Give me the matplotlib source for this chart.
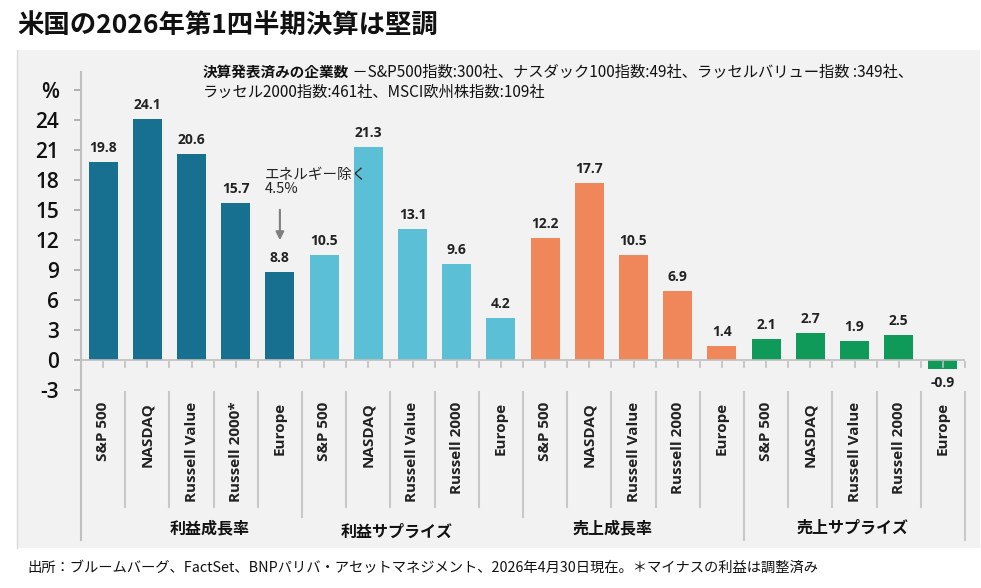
import matplotlib
matplotlib.use("Agg")
import matplotlib.pyplot as plt
import matplotlib.transforms as mtrans
from matplotlib.patches import Rectangle
import numpy as np

# ---------------- data ----------------
groups = ["利益成長率", "利益サプライズ", "売上成長率", "売上サプライズ"]
cat_group1 = ["S&P 500", "NASDAQ", "Russell Value", "Russell 2000*", "Europe"]
cat_group2 = ["S&P 500", "NASDAQ", "Russell Value", "Russell 2000", "Europe"]
cat_group3 = ["S&P 500", "NASDAQ", "Russell Value", "Russell 2000", "Europe"]
cat_group4 = ["S&P 500", "NASDAQ", "Russell Value", "Russell 2000", "Europe"]
earnings_growth = [19.8, 24.1, 20.6, 15.7, 8.8]
earnings_surprise = [10.5, 21.3, 13.1, 9.6, 4.2]
sales_growth = [12.2, 17.7, 10.5, 6.9, 1.4]
sales_surprise = [2.1, 2.7, 1.9, 2.5, -0.9]
yticks = [-3, 0, 3, 6, 9, 12, 15, 18, 21, 24, 27]
ytick_labels = ["-3", "0", "3", "6", "9", "12", "15", "18", "21", "24", "%"]

title = "米国の2026年第1四半期決算は堅調"
note_bold = "決算発表済みの企業数"
note_line1 = " －S&P500指数:300社、ナスダック100指数:49社、ラッセルバリュー指数 :349社、"
note_line2 = "ラッセル2000指数:461社、MSCI欧州株指数:109社"
annot = "エネルギー除く\n4.5%"
footer = "出所：ブルームバーグ、FactSet、BNPパリバ・アセットマネジメント、2026年4月30日現在。＊マイナスの利益は調整済み"

colors = ["#17708f", "#5bbfd6", "#f0875a", "#0f9a5a"]

series = [earnings_growth, earnings_surprise, sales_growth, sales_surprise]
cats = [cat_group1, cat_group2, cat_group3, cat_group4]

# ---------------- figure ----------------
W, H = 981, 588
fig = plt.figure(figsize=(W / 100, H / 100), dpi=100, facecolor="white")

def fx(x):
    return x / W

def fy(y):
    return 1 - y / H

JP = ["Noto Sans CJK JP", "DejaVu Sans"]
LAT = ["Open Sans", "Noto Sans CJK JP", "DejaVu Sans"]

# gray panel
fig.patches.append(Rectangle((fx(17), fy(548)), fx(980) - fx(17), fy(50) - fy(548),
                             transform=fig.transFigure, facecolor="#f2f2f2",
                             edgecolor="none", zorder=-5))
fig.lines.append(plt.Line2D([fx(17), fx(17)], [fy(50), fy(548)], transform=fig.transFigure,
                            color="#d9d9d9", lw=1, zorder=-4))

ax = fig.add_axes([fx(81), fy(390), fx(965) - fx(81), fy(72) - fy(390)])
ax.set_facecolor("none")
ax.set_zorder(1)

xs = np.arange(20)
vals = [v for s in series for v in s]
cols = [colors[g] for g in range(4) for _ in range(5)]
labels = [c for cl in cats for c in cl]

ax.bar(xs, vals, width=0.66, color=cols, zorder=3)
ax.set_xlim(-0.5, 19.5)
ax.set_ylim(-3, 28.8)

for x, v in zip(xs, vals):
    if v >= 0:
        ax.annotate(f"{v:.1f}", (x, v), xytext=(0, 5), textcoords="offset points",
                    ha="center", va="bottom", fontsize=10, fontweight="bold",
                    family=LAT, color="#222222")
    else:
        ax.annotate(f"{v:.1f}", (x, v), xytext=(0, -5), textcoords="offset points",
                    ha="center", va="top", fontsize=10, fontweight="bold",
                    family=LAT, color="#222222")

# spines
for s in ["top", "right", "bottom"]:
    ax.spines[s].set_visible(False)
ax.spines["left"].set_color("#bfbfbf")
ax.spines["left"].set_linewidth(1.5)

ax.set_yticks(yticks)
ax.set_yticklabels(ytick_labels, family=LAT, fontsize=15, fontweight="semibold",
                   color="#111111")
ax.tick_params(axis="y", direction="out", length=5, width=1.2, color="#a6a6a6", pad=11)
ax.set_xticks([])

# zero line with small ticks
ax.axhline(0, color="#bfbfbf", lw=1.2, zorder=4)
blend = mtrans.blended_transform_factory(ax.transData, fig.transFigure)
for t in np.arange(-0.5, 19.6, 0.5):
    ax.plot([t, t], [fy(362), fy(367)], transform=blend, color="#bfbfbf", lw=1.2,
            clip_on=False, zorder=4)

# extend left spine down
ax.plot([-0.5, -0.5], [fy(390), fy(540)], transform=blend, color="#bfbfbf", lw=1.5,
        clip_on=False)

# category separators
for k in range(1, 21):
    b = k - 0.5
    if b in (4.5, 9.5):
        bottom = 517
    elif b in (14.5, 19.5):
        bottom = 540
    else:
        bottom = 507
    ax.plot([b, b], [fy(392), fy(bottom)], transform=blend, color="#c8c8c8", lw=1.5,
            clip_on=False)

# category labels
for x, lab in zip(xs, labels):
    ax.text(x, fy(402), lab, transform=blend, rotation=90, ha="center", va="top",
            fontsize=11, fontweight="bold", family=LAT, color="#222222")

# group labels
group_pos = [(2.42, 528), (6.65, 532), (11.52, 528), (16.95, 528)]
for (gx, gy), g in zip(group_pos, groups):
    ax.text(gx, fy(gy), g, transform=blend, ha="center", va="center",
            fontsize=11.5, fontweight="bold", family=JP, color="#111111")

# annotation
ax.text(fx(265), fy(168), annot, transform=fig.transFigure, ha="left", va="top",
        fontsize=10.5, family=JP, color="#222222", linespacing=1.0)
ax.annotate("", xy=(4, fy(243)), xytext=(4, fy(207)), xycoords=blend, textcoords=blend,
            arrowprops=dict(arrowstyle="-|>", color="#7f7f7f", lw=1.5, mutation_scale=12))

# title
fig.text(fx(17), fy(25), title, ha="left", va="center", fontsize=19,
         fontweight="bold", family=JP, color="#111111")

# note
tb = fig.text(fx(203), fy(72), note_bold, ha="left", va="center", fontsize=10.5,
              fontweight="bold", family=JP, color="#111111")
fig.canvas.draw()
bb = tb.get_window_extent()
fig.text(bb.x1 / W, fy(72), note_line1, ha="left", va="center", fontsize=11,
         family=JP, color="#111111")
fig.text(fx(203), fy(92), note_line2, ha="left", va="center", fontsize=11,
         family=JP, color="#111111")

# footer
fig.text(fx(27), fy(568), footer, ha="left", va="center", fontsize=10.3,
         family=JP, color="#111111")

fig.savefig("out.png", dpi=100, facecolor="white")
